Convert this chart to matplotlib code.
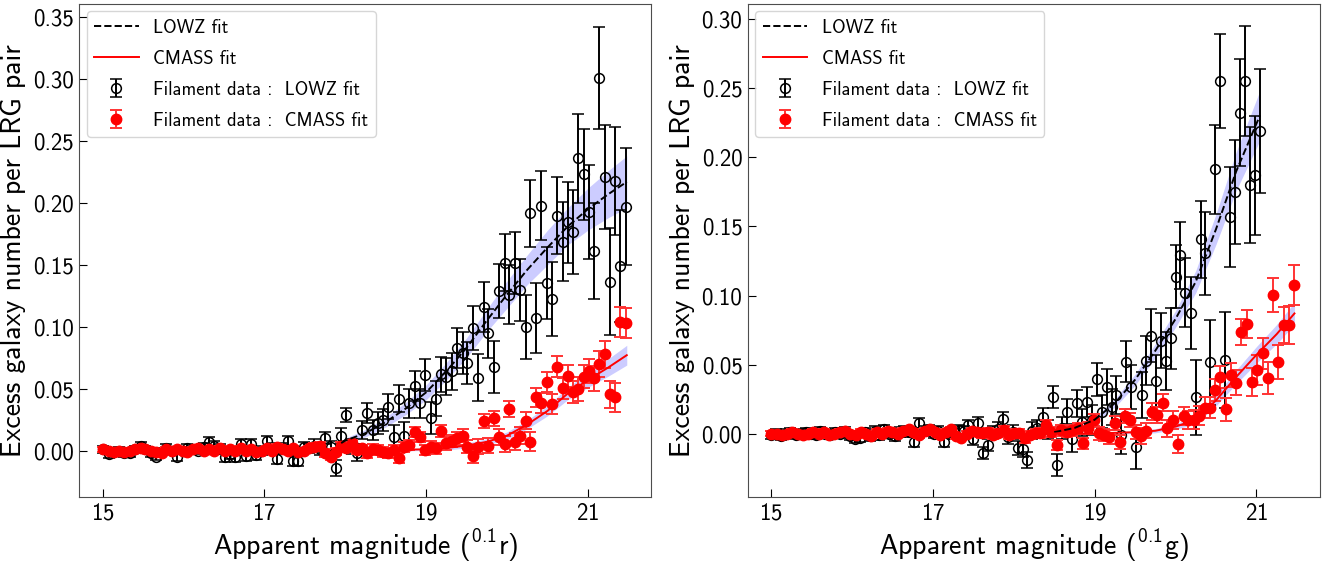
import numpy as np
import matplotlib
matplotlib.use("Agg")
from matplotlib import pyplot as plt

# --- left panel (0.1r): both samples share the same magnitude bins
mag_l = [15.01, 15.08, 15.14, 15.21, 15.27, 15.34, 15.40, 15.47, 15.53, 15.60,
         15.66, 15.73, 15.79, 15.86, 15.92, 15.99, 16.05, 16.12, 16.18, 16.25,
         16.32, 16.38, 16.45, 16.51, 16.58, 16.64, 16.71, 16.77, 16.84, 16.90,
         16.97, 17.03, 17.10, 17.16, 17.23, 17.29, 17.36, 17.42, 17.49, 17.55,
         17.62, 17.69, 17.75, 17.82, 17.88, 17.95, 18.01, 18.08, 18.14, 18.21,
         18.27, 18.34, 18.40, 18.47, 18.53, 18.60, 18.66, 18.73, 18.79, 18.86,
         18.92, 18.99, 19.06, 19.12, 19.19, 19.25, 19.32, 19.38, 19.45, 19.51,
         19.58, 19.64, 19.71, 19.77, 19.84, 19.90, 19.97, 20.03, 20.10, 20.16,
         20.23, 20.29, 20.36, 20.42, 20.49, 20.56, 20.62, 20.69, 20.75, 20.82,
         20.88, 20.95, 21.01, 21.08, 21.14, 21.21, 21.27, 21.34, 21.40, 21.47]

lowz_l = [0.001, -0.003, -0.001, 0.000, -0.002, -0.002, 0.001, 0.004, 0.001, -0.002,
          -0.005, -0.001, 0.002, 0.000, -0.0055, 0.000, 0.002, 0.001, 0.000, 0.003,
          0.0066, 0.004, 0.001, -0.0055, -0.003, -0.005, 0.005, -0.0045, 0.005, -0.004,
          0.000, 0.0077, 0.002, -0.007, 0.002, 0.0077, -0.0087, -0.0087, 0.003, 0.002,
          0.004, 0.001, 0.010, 0.003, -0.0144, 0.012, 0.0287, 0.003, -0.0018, 0.0166,
          0.0306, 0.0166, 0.022, 0.0246, 0.0354, 0.011, 0.042, 0.012, 0.038, 0.052,
          0.038, 0.061, 0.0265, 0.042, 0.0615, 0.0596, 0.064, 0.0826, 0.0785, 0.071,
          0.099, 0.0588, 0.116, 0.0947, 0.0677, 0.129, 0.1517, 0.126, 0.1517, 0.1296,
          0.100, 0.1916, 0.107, 0.1978, 0.1355, 0.1224, 0.1897, 0.1687, 0.1843, 0.1768,
          0.236, 0.223, 0.193, 0.161, 0.301, 0.2207, 0.1364, 0.2177, 0.149, 0.197]
lowz_l_err = [0.003, 0.003, 0.003, 0.003, 0.003, 0.003, 0.003, 0.003, 0.003, 0.003,
              0.003, 0.003, 0.003, 0.003, 0.003, 0.003, 0.003, 0.003, 0.003, 0.003,
              0.004, 0.004, 0.004, 0.004, 0.004, 0.004, 0.004, 0.004, 0.004, 0.004,
              0.004, 0.004, 0.004, 0.004, 0.004, 0.004, 0.004, 0.004, 0.004, 0.004,
              0.005, 0.005, 0.005, 0.005, 0.0065, 0.006, 0.006, 0.006, 0.007, 0.007,
              0.008, 0.008, 0.009, 0.009, 0.010, 0.010, 0.011, 0.011, 0.012, 0.012,
              0.012, 0.013, 0.013, 0.014, 0.014, 0.015, 0.015, 0.016, 0.017, 0.017,
              0.018, 0.019, 0.020, 0.020, 0.021, 0.022, 0.023, 0.024, 0.025, 0.025,
              0.026, 0.027, 0.028, 0.028, 0.029, 0.030, 0.031, 0.032, 0.033, 0.034,
              0.036, 0.037, 0.038, 0.039, 0.041, 0.042, 0.043, 0.044, 0.045, 0.047]

cmass_l = [0.001, 0.000, -0.001, 0.000, -0.001, 0.000, 0.001, 0.002, 0.001, 0.000,
           -0.001, -0.002, 0.001, 0.000, 0.001, 0.000, -0.001, 0.001, 0.002, 0.000,
           0.001, 0.000, 0.002, 0.000, 0.001, 0.000, 0.002, 0.000, 0.001, -0.001,
           0.000, 0.002, 0.000, 0.003, 0.001, 0.000, 0.002, -0.001, 0.000, 0.002,
           0.003, 0.004, -0.002, -0.005, -0.001, 0.0036, 0.0018, 0.0058, 0.0004, 0.0018,
           -0.0023, 0.0012, 0.0004, -0.001, -0.0023, 0.0004, -0.0058, 0.0031, 0.0044, 0.0147,
           0.011, 0.0004, 0.0031, 0.0018, 0.0157, 0.0058, 0.0079, 0.0098, 0.012, 0.0031,
           -0.0044, 0.0031, 0.0238, 0.0039, 0.026, 0.011, 0.0052, 0.0333, 0.0071, 0.012,
           0.024, 0.0071, 0.043, 0.0386, 0.0556, 0.0376, 0.0677, 0.0502, 0.060, 0.0475,
           0.0497, 0.0596, 0.0642, 0.0583, 0.0699, 0.0777, 0.0454, 0.043, 0.1036, 0.1028]
cmass_l_err = [0.002, 0.002, 0.002, 0.002, 0.002, 0.002, 0.002, 0.002, 0.002, 0.002,
               0.002, 0.002, 0.002, 0.002, 0.002, 0.002, 0.002, 0.002, 0.002, 0.002,
               0.002, 0.002, 0.002, 0.002, 0.002, 0.002, 0.002, 0.002, 0.002, 0.002,
               0.002, 0.002, 0.002, 0.002, 0.002, 0.002, 0.002, 0.002, 0.002, 0.002,
               0.003, 0.003, 0.003, 0.003, 0.003, 0.003, 0.003, 0.003, 0.003, 0.003,
               0.004, 0.004, 0.004, 0.004, 0.004, 0.004, 0.004, 0.004, 0.004, 0.004,
               0.004, 0.004, 0.0045, 0.0045, 0.005, 0.005, 0.005, 0.005, 0.0055, 0.0055,
               0.0055, 0.006, 0.006, 0.006, 0.006, 0.0065, 0.0065, 0.0065, 0.007, 0.007,
               0.007, 0.0075, 0.0075, 0.008, 0.008, 0.008, 0.0085, 0.0085, 0.009, 0.009,
               0.0095, 0.0095, 0.010, 0.010, 0.0105, 0.011, 0.011, 0.0115, 0.012, 0.012]

# fitted curves + 1-sigma bands (left)
fit_lowz_l_mag = [17.95, 18.0, 18.25, 18.5, 18.75, 19.0, 19.25, 19.5, 19.75, 20.0,
                  20.25, 20.5, 20.75, 21.0, 21.25, 21.48]
fit_lowz_l = [0.006, 0.008, 0.014, 0.023, 0.034, 0.047, 0.064, 0.083, 0.105, 0.126,
              0.146, 0.164, 0.181, 0.195, 0.207, 0.217]
band_lowz_l = [0.002, 0.002, 0.003, 0.004, 0.005, 0.006, 0.007, 0.008, 0.009, 0.011,
               0.012, 0.014, 0.015, 0.017, 0.019, 0.021]
fit_cmass_l_mag = [18.0, 18.5, 19.0, 19.25, 19.5, 19.75, 20.0, 20.25, 20.5, 20.75,
                   21.0, 21.25, 21.48]
fit_cmass_l = [0.000, 0.0003, 0.001, 0.002, 0.004, 0.007, 0.012, 0.021, 0.032, 0.046,
               0.057, 0.067, 0.077]
band_cmass_l = [0.0005, 0.0008, 0.001, 0.0015, 0.002, 0.0025, 0.003, 0.0035, 0.004, 0.005,
                0.006, 0.007, 0.008]

# --- right panel (0.1g): LOWZ and CMASS bins differ
mag_lowz_r = [15.00, 15.06, 15.12, 15.18, 15.24, 15.31, 15.37, 15.43, 15.49, 15.55,
              15.61, 15.67, 15.73, 15.79, 15.85, 15.92, 15.98, 16.04, 16.10, 16.16,
              16.22, 16.28, 16.34, 16.40, 16.46, 16.53, 16.59, 16.65, 16.71, 16.77,
              16.83, 16.89, 16.95, 17.01, 17.07, 17.14, 17.20, 17.26, 17.32, 17.38,
              17.44, 17.50, 17.56, 17.62, 17.68, 17.75, 17.81, 17.87, 17.93, 17.99,
              18.05, 18.11, 18.17, 18.23, 18.29, 18.36, 18.42, 18.48, 18.54, 18.60,
              18.66, 18.72, 18.78, 18.84, 18.90, 18.97, 19.03, 19.09, 19.15, 19.21,
              19.27, 19.33, 19.39, 19.45, 19.51, 19.58, 19.64, 19.70, 19.76, 19.82,
              19.88, 19.94, 20.00, 20.06, 20.12, 20.19, 20.25, 20.31, 20.37, 20.43,
              20.49, 20.55, 20.61, 20.67, 20.73, 20.80, 20.86, 20.92, 20.98, 21.04]
lowz_r = [-0.001, 0.000, -0.002, 0.000, 0.001, -0.001, 0.000, 0.001, 0.000, -0.001,
          0.002, 0.000, -0.001, 0.001, 0.000, 0.002, -0.002, -0.004, -0.003, 0.001,
          -0.002, 0.002, -0.001, 0.003, 0.000, -0.002, 0.001, 0.002, 0.001, -0.006,
          0.0074, 0.002, 0.003, 0.000, 0.002, -0.006, 0.000, 0.001, 0.0025, 0.002,
          0.006, -0.004, 0.0078, -0.014, -0.0083, 0.001, 0.003, 0.0103, -0.0023, 0.001,
          -0.0103, -0.0115, -0.0192, 0.002, 0.0038, 0.0117, 0.003, 0.0267, -0.0228, 0.004,
          0.0158, -0.0042, 0.0219, 0.008, 0.023, 0.010, 0.0393, 0.0158, 0.0335, 0.019,
          0.0279, -0.0011, 0.052, 0.0335, -0.0096, 0.0279, 0.0528, 0.0709, 0.038, 0.0672,
          0.0528, 0.069, 0.1136, 0.129, 0.102, 0.0875, 0.0262, 0.1407, 0.1306, 0.0516,
          0.1914, 0.2554, 0.0533, 0.157, 0.175, 0.2325, 0.2554, 0.180, 0.187, 0.219]
lowz_r_err = [0.003, 0.003, 0.003, 0.003, 0.003, 0.003, 0.003, 0.003, 0.003, 0.003,
              0.003, 0.003, 0.003, 0.003, 0.003, 0.003, 0.003, 0.003, 0.003, 0.003,
              0.0035, 0.0035, 0.0035, 0.0035, 0.0035, 0.0035, 0.0035, 0.0035, 0.0035, 0.0035,
              0.0035, 0.0035, 0.0035, 0.0035, 0.0035, 0.0035, 0.0035, 0.0035, 0.0035, 0.0035,
              0.004, 0.004, 0.004, 0.0045, 0.0045, 0.0045, 0.005, 0.005, 0.005, 0.005,
              0.005, 0.0055, 0.006, 0.006, 0.006, 0.0065, 0.007, 0.008, 0.008, 0.008,
              0.009, 0.009, 0.010, 0.010, 0.011, 0.011, 0.012, 0.012, 0.013, 0.013,
              0.014, 0.014, 0.015, 0.016, 0.016, 0.017, 0.018, 0.019, 0.019, 0.020,
              0.021, 0.022, 0.023, 0.024, 0.025, 0.026, 0.027, 0.028, 0.030, 0.031,
              0.032, 0.034, 0.035, 0.036, 0.038, 0.039, 0.040, 0.042, 0.043, 0.045]

mag_cmass_r = [15.00, 15.07, 15.13, 15.20, 15.26, 15.33, 15.39, 15.46, 15.52, 15.59,
               15.65, 15.72, 15.78, 15.85, 15.91, 15.98, 16.05, 16.11, 16.18, 16.24,
               16.31, 16.37, 16.44, 16.50, 16.57, 16.63, 16.70, 16.76, 16.83, 16.90,
               16.96, 17.03, 17.09, 17.16, 17.22, 17.29, 17.35, 17.42, 17.48, 17.55,
               17.61, 17.68, 17.74, 17.81, 17.88, 17.94, 18.01, 18.07, 18.14, 18.20,
               18.27, 18.33, 18.40, 18.46, 18.53, 18.59, 18.66, 18.72, 18.79, 18.86,
               18.92, 18.99, 19.05, 19.12, 19.18, 19.25, 19.31, 19.38, 19.44, 19.51,
               19.57, 19.64, 19.71, 19.77, 19.84, 19.90, 19.97, 20.03, 20.10, 20.16,
               20.23, 20.29, 20.36, 20.42, 20.49, 20.55, 20.62, 20.68, 20.75, 20.81,
               20.88, 20.95, 21.01, 21.08, 21.14, 21.21, 21.27, 21.34, 21.40, 21.47]
cmass_r = [0.000, 0.000, -0.001, 0.000, 0.001, 0.000, -0.001, 0.000, 0.001, 0.000,
           0.001, -0.001, 0.000, 0.001, 0.002, 0.000, -0.001, 0.001, 0.000, -0.002,
           0.001, 0.000, 0.002, 0.001, 0.000, 0.002, 0.003, 0.001, -0.001, 0.002,
           0.003, 0.001, -0.001, 0.001, 0.003, -0.002, -0.003, 0.000, 0.002, 0.001,
           0.0001, 0.0013, -0.001, 0.0006, 0.0025, -0.001, 0.0001, 0.0006, -0.0035, -0.001,
           0.0001, 0.0006, 0.006, 0.0013, -0.0083, 0.0025, 0.0013, 0.0025, 0.0038, -0.0071,
           0.0038, 0.0098, 0.0001, -0.0011, -0.0023, 0.0074, -0.006, 0.0127, 0.0098, 0.0013,
           -0.0018, 0.002, 0.0158, 0.0134, 0.0223, 0.0038, 0.0098, -0.0076, 0.0127, 0.0098,
           0.010, 0.0129, 0.0187, 0.0187, 0.0315, 0.041, 0.0175, 0.0424, 0.0368, 0.0738,
           0.0793, 0.0375, 0.046, 0.058, 0.040, 0.1004, 0.052, 0.0786, 0.0786, 0.1076]
cmass_r_err = [0.002, 0.002, 0.002, 0.002, 0.002, 0.002, 0.002, 0.002, 0.002, 0.002,
               0.002, 0.002, 0.002, 0.002, 0.002, 0.002, 0.002, 0.002, 0.002, 0.002,
               0.002, 0.002, 0.002, 0.002, 0.002, 0.002, 0.002, 0.002, 0.002, 0.002,
               0.002, 0.002, 0.002, 0.002, 0.002, 0.002, 0.002, 0.002, 0.002, 0.002,
               0.003, 0.003, 0.003, 0.003, 0.003, 0.003, 0.003, 0.003, 0.003, 0.003,
               0.0035, 0.0035, 0.0035, 0.0035, 0.0035, 0.004, 0.004, 0.004, 0.004, 0.004,
               0.0045, 0.0045, 0.0045, 0.0045, 0.005, 0.005, 0.005, 0.005, 0.005, 0.005,
               0.0055, 0.0055, 0.006, 0.006, 0.006, 0.006, 0.0065, 0.0065, 0.0065, 0.0065,
               0.007, 0.007, 0.0075, 0.0075, 0.008, 0.008, 0.0085, 0.0085, 0.009, 0.0095,
               0.010, 0.010, 0.011, 0.011, 0.0115, 0.012, 0.0125, 0.013, 0.0135, 0.0145]

fit_lowz_r_mag = [18.5, 18.75, 19.0, 19.25, 19.5, 19.75, 20.0, 20.25, 20.5, 20.75, 21.04]
fit_lowz_r = [0.001, 0.004, 0.010, 0.022, 0.039, 0.060, 0.083, 0.110, 0.148, 0.190, 0.230]
band_lowz_r = [0.001, 0.0015, 0.002, 0.003, 0.004, 0.005, 0.006, 0.008, 0.011, 0.014, 0.018]
fit_cmass_r_mag = [18.5, 19.0, 19.5, 19.75, 20.0, 20.25, 20.5, 20.75, 21.0, 21.25, 21.47]
fit_cmass_r = [0.000, 0.000, 0.001, 0.002, 0.005, 0.010, 0.024, 0.041, 0.057, 0.072, 0.087]
band_cmass_r = [0.0005, 0.0008, 0.001, 0.0015, 0.002, 0.003, 0.004, 0.005, 0.006, 0.007, 0.008]

xticks = [15, 17, 19, 21]

plt.rcParams["font.family"] = "cmss10"
plt.rcParams["axes.formatter.use_mathtext"] = True
plt.rcParams["mathtext.fontset"] = "cm"


def draw_panel(ax, band_cmass, fit_cmass, fit_cmass_mag, band_lowz, fit_lowz, fit_lowz_mag,
               m_lowz, y_lowz, e_lowz, m_cmass, y_cmass, e_cmass, ylim, yticks, xlabel):
    # shaded 1-sigma bands
    fl = np.asarray(fit_lowz)
    bl = np.asarray(band_lowz)
    ax.fill_between(fit_lowz_mag, fl - bl, fl + bl, color="blue", alpha=0.2, lw=0, zorder=1)
    fc = np.asarray(fit_cmass)
    bc = np.asarray(band_cmass)
    ax.fill_between(fit_cmass_mag, fc - bc, fc + bc, color="blue", alpha=0.2, lw=0, zorder=1)

    # data
    h_lowz = ax.errorbar(m_lowz, y_lowz, yerr=e_lowz, fmt="o", mfc="none", mec="k",
                         ecolor="k", ms=7, mew=1.1, elinewidth=1.4, capsize=4.2,
                         capthick=1.4, zorder=2, label="Filament data :  LOWZ fit")
    h_cmass = ax.errorbar(m_cmass, y_cmass, yerr=e_cmass, fmt="o", color="red",
                          ecolor=(1.0, 0.2, 0.2), ms=7.5, elinewidth=1.4, capsize=4.2,
                          capthick=1.4, zorder=3, label="Filament data :  CMASS fit")

    # fits
    l_lowz, = ax.plot(fit_lowz_mag, fit_lowz, "k--", lw=1.4, zorder=4, label="LOWZ fit")
    l_cmass, = ax.plot(fit_cmass_mag, fit_cmass, "r-", lw=1.4, zorder=4, label="CMASS fit")

    ax.set_xlim(14.715, 21.78)
    ax.set_ylim(*ylim)
    ax.set_xticks(xticks)
    ax.set_yticks(yticks)
    ax.yaxis.set_major_formatter(matplotlib.ticker.FormatStrFormatter("%.2f"))
    ax.tick_params(direction="in", length=6, labelsize=16.5, pad=4)
    for sp in ax.spines.values():
        sp.set_color("0.3")
    ax.set_xlabel(xlabel, fontsize=20, labelpad=2)
    ax.set_ylabel("Excess galaxy number per LRG pair", fontsize=20, labelpad=5)
    ax.legend(handles=[l_lowz, l_cmass, h_lowz, h_cmass], loc="upper left",
              fontsize=13.3, handlelength=2.4, labelspacing=0.7, borderaxespad=0.4)


fig = plt.figure(figsize=(13.33, 5.63), dpi=100)
ax1 = fig.add_axes([0.0596, 0.1167, 0.4288, 0.8762])
ax2 = fig.add_axes([0.5611, 0.1167, 0.4288, 0.8762])

draw_panel(ax1, band_cmass_l, fit_cmass_l, fit_cmass_l_mag, band_lowz_l, fit_lowz_l,
           fit_lowz_l_mag, mag_l, lowz_l, lowz_l_err, mag_l, cmass_l, cmass_l_err,
           (-0.0378, 0.3607), [0.0, 0.05, 0.10, 0.15, 0.20, 0.25, 0.30, 0.35],
           r"Apparent magnitude ($\mathregular{^{0.1}}$r)")
draw_panel(ax2, band_cmass_r, fit_cmass_r, fit_cmass_r_mag, band_lowz_r, fit_lowz_r,
           fit_lowz_r_mag, mag_lowz_r, lowz_r, lowz_r_err, mag_cmass_r, cmass_r, cmass_r_err,
           (-0.0462, 0.3112), [0.0, 0.05, 0.10, 0.15, 0.20, 0.25, 0.30],
           r"Apparent magnitude ($\mathregular{^{0.1}}$g)")

fig.savefig("out.png", dpi=100)
